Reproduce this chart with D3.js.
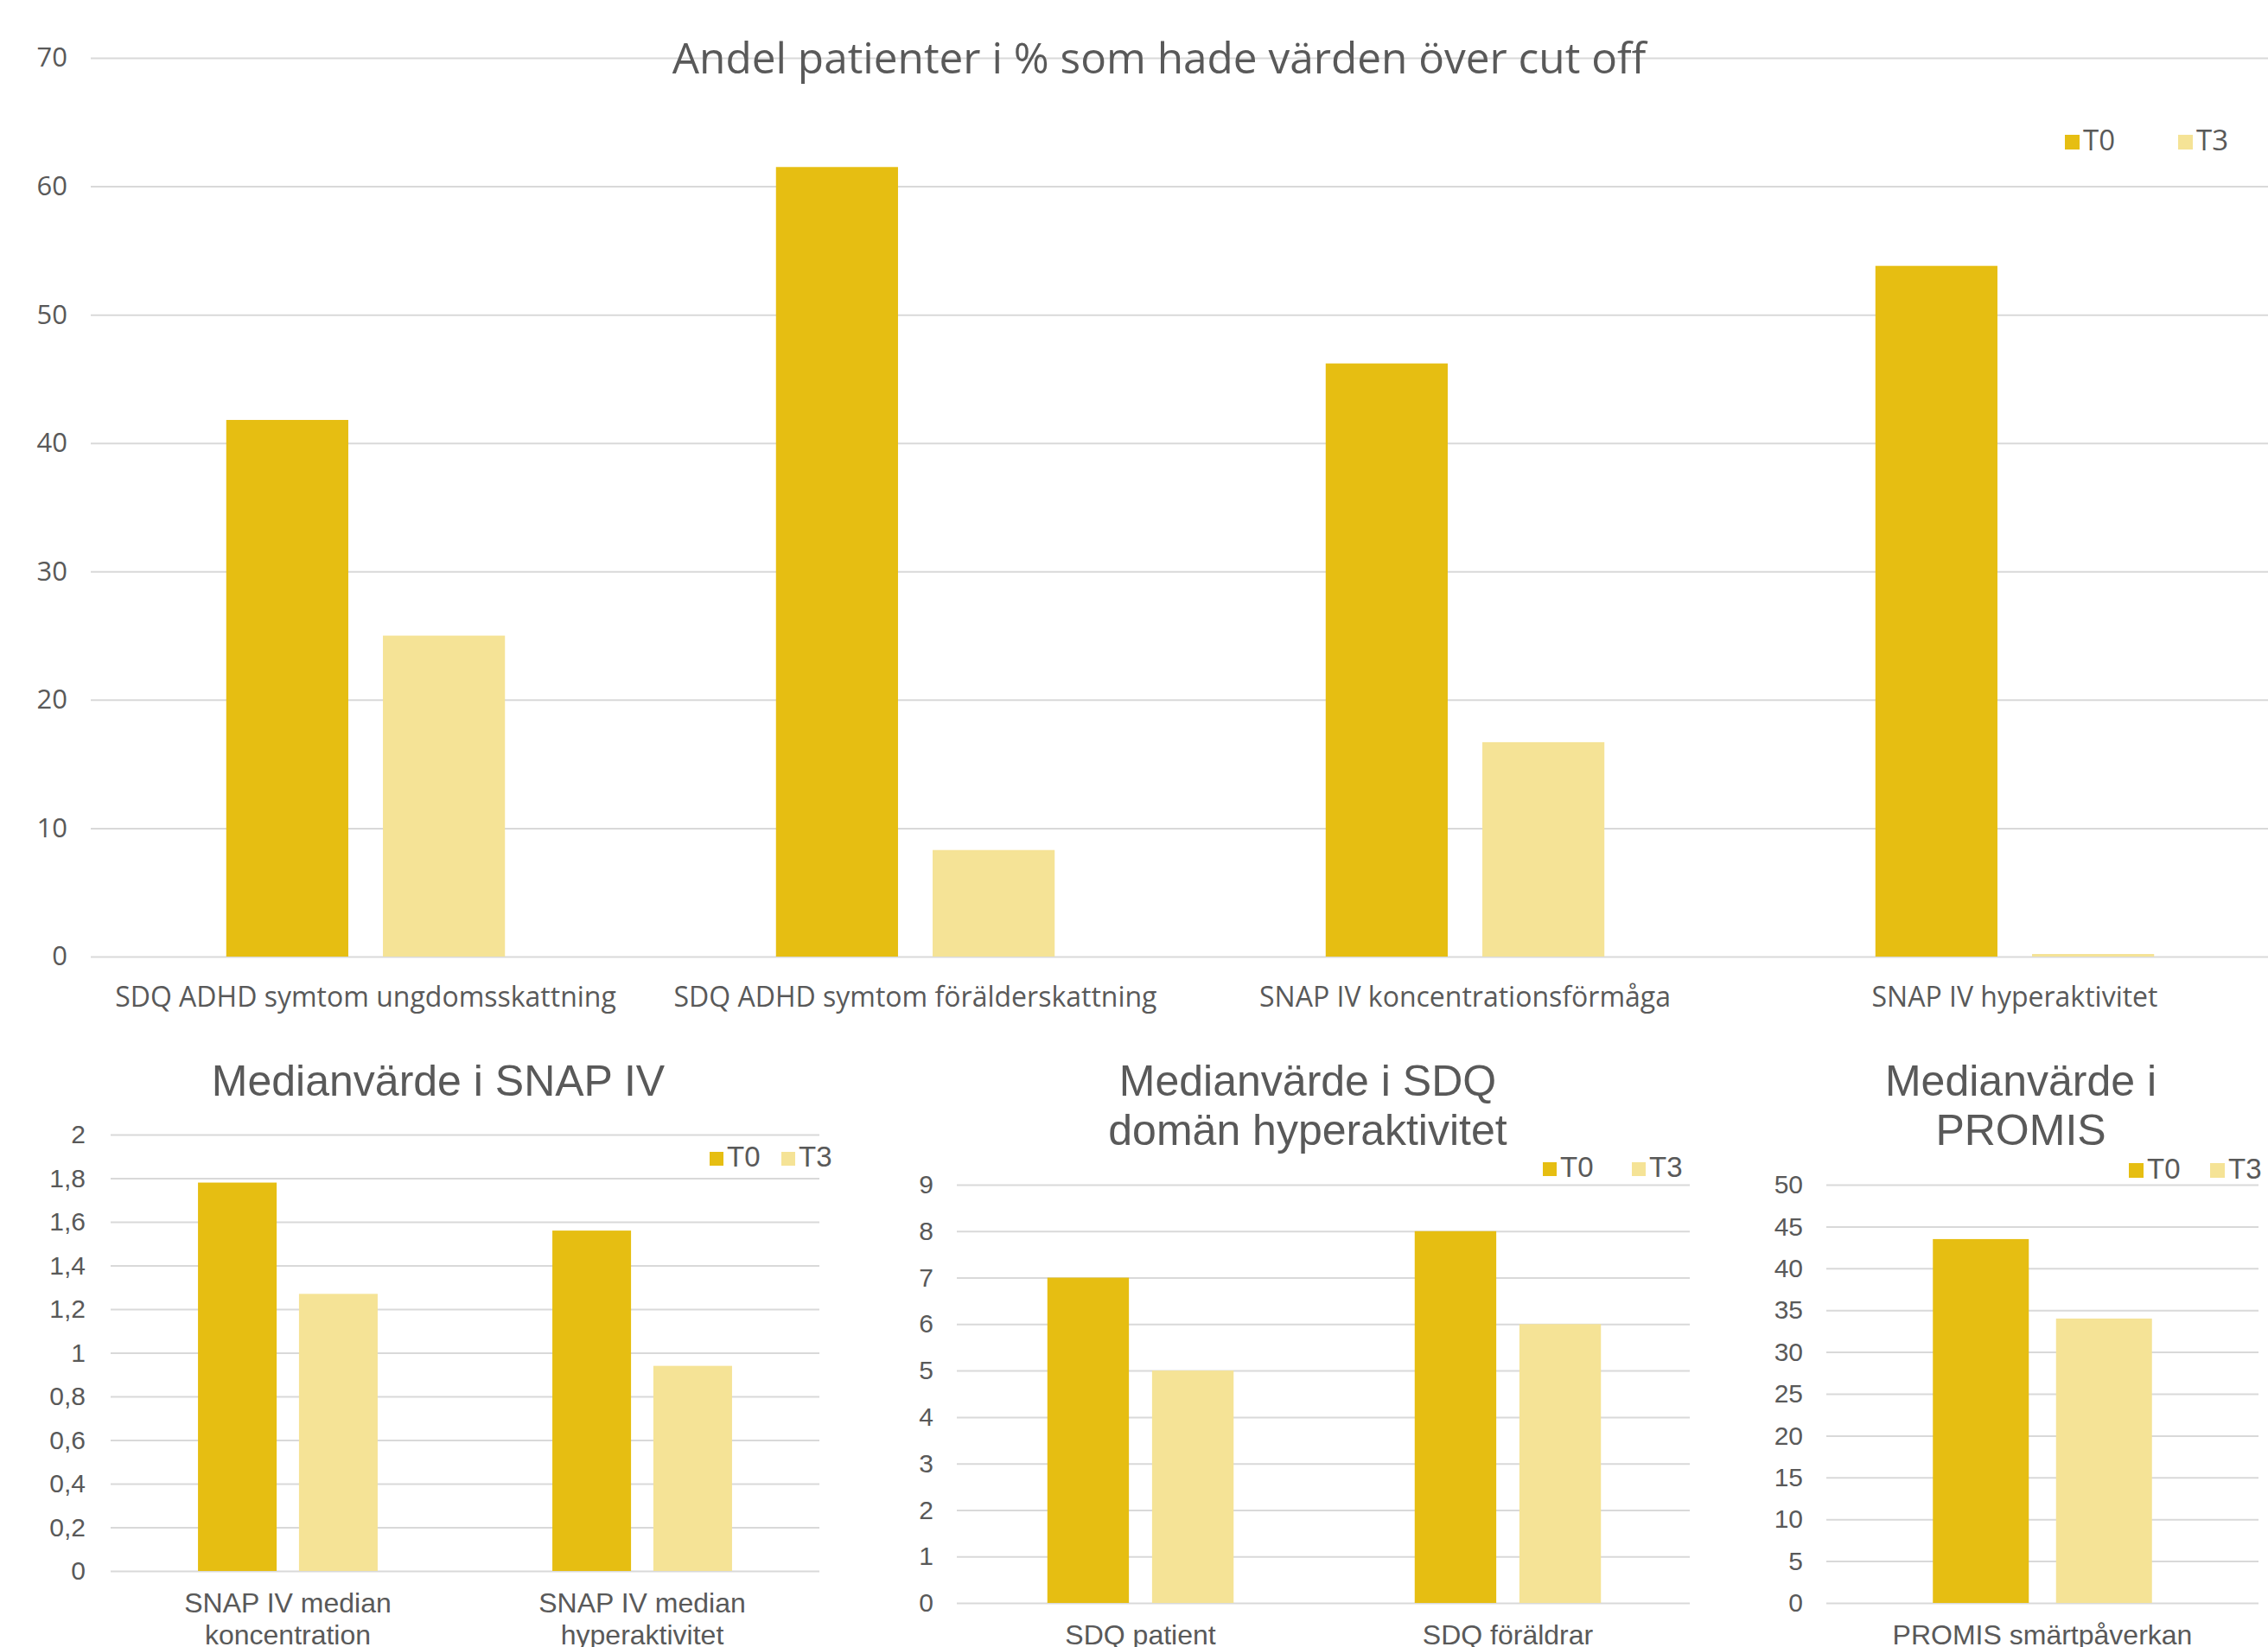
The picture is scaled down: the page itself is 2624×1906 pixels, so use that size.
<!DOCTYPE html>
<html>
<head>
<meta charset="utf-8">
<script src="https://cdn.jsdelivr.net/npm/d3@7"></script>
<style>
  body { margin: 0; background: #fff; }
  svg { display: block; }
</style>
</head>
<body>
<div id="chart"></div>
<script>
// data
var series = ['T0', 'T3'];
var seriesColors = ['#E6BE12', '#F5E396'];

var cutoffCategories = [['SDQ ADHD symtom ungdomsskattning'], ['SDQ ADHD symtom förälderskattning'],
  ['SNAP IV koncentrationsförmåga'], ['SNAP IV hyperaktivitet']];
var cutoffT0 = [41.8, 61.5, 46.2, 53.8];
var cutoffT3 = [25.0, 8.3, 16.7, 0.2];
var cutoffTicks = [0, 10, 20, 30, 40, 50, 60, 70];

var snapCategories = [['SNAP IV median', 'koncentration'], ['SNAP IV median', 'hyperaktivitet']];
var snapT0 = [1.78, 1.56];
var snapT3 = [1.27, 0.94];
var snapTicks = [0, 0.2, 0.4, 0.6, 0.8, 1, 1.2, 1.4, 1.6, 1.8, 2];

var sdqCategories = [['SDQ patient'], ['SDQ föräldrar']];
var sdqT0 = [7, 8];
var sdqT3 = [5, 6];
var sdqTicks = [0, 1, 2, 3, 4, 5, 6, 7, 8, 9];

var promisCategories = [['PROMIS smärtpåverkan']];
var promisT0 = [43.5];
var promisT3 = [34];
var promisTicks = [0, 5, 10, 15, 20, 25, 30, 35, 40, 45, 50];

var width = 2624, height = 1906;
var textColor = '#595959', gridColor = '#D9D9D9';

var svg = d3.select('#chart').append('svg')
    .attr('width', width)
    .attr('height', height);

// swedish decimal comma
var svFormat = function(d) { return String(d3.format('~g')(d)).replace('.', ','); };

function drawChart(o) {
  var g = svg.append('g').style('font-family', o.font);

  var y = d3.scaleLinear()
      .domain([0, d3.max(o.ticks)])
      .range([o.bottom, o.top]);

  var x = d3.scaleBand()
      .domain(d3.range(o.categories.length))
      .range([o.left, o.right]);

  // gridlines + tick labels
  var axis = g.append('g')
      .attr('transform', 'translate(' + o.left + ',0)')
      .call(d3.axisLeft(y).tickValues(o.ticks).tickFormat(svFormat)
        .tickSize(-(o.gridRight - o.left)).tickPadding(o.tickPad));
  axis.select('.domain').remove();
  axis.selectAll('line').attr('stroke', gridColor).attr('stroke-width', 2);
  axis.selectAll('text').attr('fill', textColor)
      .style('font-size', o.tickSize + 'px').style('font-family', o.font);

  // bars
  var values = [o.t0, o.t3];
  var bw = x.bandwidth();
  var barW = bw * 0.222, gap = bw * 0.063;
  var groupStart = (bw - (2 * barW + gap)) / 2;
  series.forEach(function(s, si) {
    g.append('g').selectAll('rect')
      .data(values[si])
      .enter().append('rect')
      .attr('x', function(d, i) { return x(i) + groupStart + si * (barW + gap); })
      .attr('width', barW)
      .attr('y', function(d) { return y(d); })
      .attr('height', function(d) { return y(0) - y(d); })
      .attr('fill', seriesColors[si]);
  });

  // category labels
  g.append('g').selectAll('text')
    .data(o.categories)
    .enter().append('text')
    .attr('text-anchor', 'middle')
    .attr('fill', textColor)
    .style('font-size', o.labelSize + 'px')
    .each(function(lines, i) {
      var t = d3.select(this);
      lines.forEach(function(l, li) {
        t.append('tspan')
          .attr('x', x(i) + bw / 2)
          .attr('y', o.labelY + li * o.labelLine)
          .text(l);
      });
    });

  // title
  var title = g.append('text')
      .attr('text-anchor', 'middle')
      .attr('fill', textColor)
      .style('font-size', o.titleSize + 'px');
  o.title.forEach(function(l, li) {
    title.append('tspan')
      .attr('x', o.titleX)
      .attr('y', o.titleY + li * o.titleLine)
      .text(l);
  });

  // legend
  series.forEach(function(s, si) {
    var lx = o.legendX[si];
    g.append('rect')
      .attr('x', lx)
      .attr('y', o.legendY - o.legendBox - 1)
      .attr('width', o.legendBox)
      .attr('height', o.legendBox)
      .attr('fill', seriesColors[si]);
    g.append('text')
      .attr('x', lx + o.legendBox + 4)
      .attr('y', o.legendY)
      .attr('fill', textColor)
      .style('font-size', o.legendSize + 'px')
      .text(s);
  });
}

drawChart({
  font: '"Open Sans", sans-serif',
  categories: cutoffCategories, t0: cutoffT0, t3: cutoffT3, ticks: cutoffTicks,
  top: 67, bottom: 1107, left: 105, right: 2649, gridRight: 2624,
  tickPad: 27, tickSize: 31,
  labelY: 1165, labelLine: 0, labelSize: 32,
  title: ['Andel patienter i % som hade värden över cut off'],
  titleX: 1341, titleY: 85, titleLine: 0, titleSize: 49.5,
  legendX: [2389, 2520], legendY: 174, legendBox: 17, legendSize: 33
});

drawChart({
  font: '"Liberation Sans", Arial, sans-serif',
  categories: snapCategories, t0: snapT0, t3: snapT3, ticks: snapTicks,
  top: 1313, bottom: 1818, left: 128, right: 948, gridRight: 948,
  tickPad: 29, tickSize: 30,
  labelY: 1866, labelLine: 37, labelSize: 32,
  title: ['Medianvärde i SNAP IV'],
  titleX: 507, titleY: 1268, titleLine: 0, titleSize: 50,
  legendX: [821, 904], legendY: 1350, legendBox: 16, legendSize: 33
});

drawChart({
  font: '"Liberation Sans", Arial, sans-serif',
  categories: sdqCategories, t0: sdqT0, t3: sdqT3, ticks: sdqTicks,
  top: 1371, bottom: 1855, left: 1107, right: 1957, gridRight: 1955,
  tickPad: 27, tickSize: 30,
  labelY: 1903, labelLine: 37, labelSize: 32,
  title: ['Medianvärde i SDQ', 'domän hyperaktivitet'],
  titleX: 1513, titleY: 1268, titleLine: 57, titleSize: 50,
  legendX: [1785, 1888], legendY: 1362, legendBox: 16, legendSize: 33
});

drawChart({
  font: '"Liberation Sans", Arial, sans-serif',
  categories: promisCategories, t0: promisT0, t3: promisT3, ticks: promisTicks,
  top: 1371, bottom: 1855, left: 2113, right: 2613, gridRight: 2613,
  tickPad: 27, tickSize: 30,
  labelY: 1903, labelLine: 37, labelSize: 32,
  title: ['Medianvärde i', 'PROMIS'],
  titleX: 2338, titleY: 1268, titleLine: 57, titleSize: 50,
  legendX: [2463, 2557], legendY: 1364, legendBox: 17, legendSize: 33
});
</script>
</body>
</html>
